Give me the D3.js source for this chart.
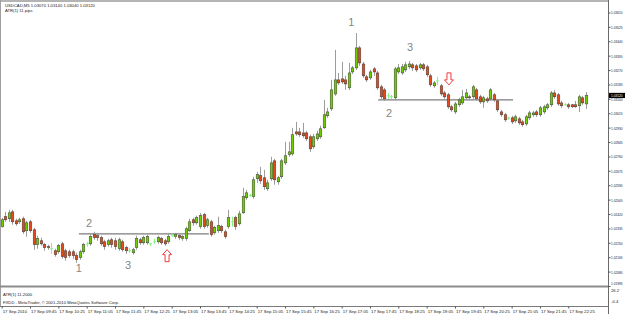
<!DOCTYPE html>
<html>
<head>
<meta charset="utf-8">
<script src="https://cdn.jsdelivr.net/npm/d3@7"></script>
<style>
  html, body { margin: 0; padding: 0; background: #fff; }
  svg { display: block; font-family: "Liberation Sans", Arial, sans-serif; }
</style>
</head>
<body>
<div id="chart"></div>
<script>
// USDCAD M5, 17 Sep 2010, 09:05 .. 22:50
const symbol = "USDCAD,M5";

const open = [
  1.02345, 1.02404, 1.02392, 1.02433, 1.02380, 1.02374, 1.02392, 1.02321, 1.02374, 1.02327,
  1.02239, 1.02262, 1.02239, 1.02227, 1.02215, 1.02203, 1.02197, 1.02244, 1.02203, 1.02197,
  1.02197, 1.02174, 1.02162, 1.02197, 1.02244, 1.02244, 1.02298, 1.02292, 1.02280, 1.02256,
  1.02239, 1.02268, 1.02262, 1.02215, 1.02256, 1.02221, 1.02203, 1.02191, 1.02221, 1.02268,
  1.02250, 1.02250, 1.02244, 1.02256, 1.02256, 1.02274, 1.02262, 1.02256, 1.02292, 1.02286,
  1.02292, 1.02274, 1.02274, 1.02321, 1.02386, 1.02368, 1.02345, 1.02416, 1.02351, 1.02374,
  1.02309, 1.02321, 1.02345, 1.02315, 1.02345, 1.02374, 1.02398, 1.02362, 1.02427, 1.02516,
  1.02528, 1.02522, 1.02628, 1.02646, 1.02634, 1.02569, 1.02628, 1.02734, 1.02610, 1.02640,
  1.02722, 1.02770, 1.02775, 1.02905, 1.02905, 1.02899, 1.02899, 1.02876, 1.02817, 1.02864,
  1.02876, 1.02929, 1.03000, 1.03041, 1.03129, 1.03212, 1.03218, 1.03212, 1.03165, 1.03259,
  1.03283, 1.03401, 1.03306, 1.03230, 1.03224, 1.03277, 1.03253, 1.03171, 1.03153, 1.03118,
  1.03112, 1.03106, 1.03259, 1.03253, 1.03271, 1.03289, 1.03301, 1.03295, 1.03283, 1.03301,
  1.03289, 1.03236, 1.03177, 1.03206, 1.03177, 1.03135, 1.03124, 1.03053, 1.03023, 1.03065,
  1.03076, 1.03106, 1.03112, 1.03112, 1.03153, 1.03112, 1.03082, 1.03100, 1.03100, 1.03124,
  1.03088, 1.03023, 1.03006, 1.02988, 1.02988, 1.02970, 1.02982, 1.02964, 1.02952, 1.02988,
  1.03006, 1.03023, 1.03006, 1.03023, 1.03047, 1.03065, 1.03135, 1.03124, 1.03076, 1.03065,
  1.03065, 1.03065, 1.03065, 1.03059, 1.03106, 1.03070
];
const high = [
  1.02398, 1.02433, 1.02445, 1.02445, 1.02392, 1.02398, 1.02404, 1.02380, 1.02386, 1.02339,
  1.02292, 1.02280, 1.02250, 1.02239, 1.02250, 1.02215, 1.02244, 1.02256, 1.02215, 1.02209,
  1.02209, 1.02191, 1.02209, 1.02250, 1.02256, 1.02303, 1.02315, 1.02309, 1.02292, 1.02268,
  1.02274, 1.02280, 1.02280, 1.02280, 1.02268, 1.02233, 1.02221, 1.02221, 1.02292, 1.02280,
  1.02292, 1.02298, 1.02250, 1.02274, 1.02292, 1.02286, 1.02274, 1.02309, 1.02303, 1.02309,
  1.02303, 1.02298, 1.02345, 1.02392, 1.02398, 1.02410, 1.02427, 1.02427, 1.02398, 1.02386,
  1.02351, 1.02404, 1.02357, 1.02327, 1.02445, 1.02404, 1.02410, 1.02439, 1.02575, 1.02563,
  1.02539, 1.02640, 1.02669, 1.02699, 1.02681, 1.02622, 1.02758, 1.02746, 1.02646, 1.02746,
  1.02846, 1.02846, 1.02929, 1.02964, 1.02929, 1.02958, 1.02911, 1.02888, 1.02893, 1.02911,
  1.02941, 1.03094, 1.03047, 1.03212, 1.03389, 1.03253, 1.03318, 1.03236, 1.03312, 1.03295,
  1.03489, 1.03413, 1.03318, 1.03242, 1.03271, 1.03289, 1.03265, 1.03183, 1.03165, 1.03135,
  1.03124, 1.03289, 1.03306, 1.03306, 1.03318, 1.03324, 1.03312, 1.03306, 1.03312, 1.03312,
  1.03301, 1.03247, 1.03206, 1.03230, 1.03188, 1.03147, 1.03135, 1.03065, 1.03082, 1.03106,
  1.03153, 1.03159, 1.03124, 1.03183, 1.03165, 1.03124, 1.03118, 1.03112, 1.03165, 1.03135,
  1.03100, 1.03035, 1.03017, 1.02994, 1.03000, 1.03006, 1.02994, 1.02976, 1.03006, 1.03029,
  1.03029, 1.03035, 1.03059, 1.03065, 1.03076, 1.03147, 1.03153, 1.03135, 1.03088, 1.03076,
  1.03076, 1.03070, 1.03088, 1.03124, 1.03118, 1.03140
];
const low = [
  1.02339, 1.02374, 1.02374, 1.02357, 1.02351, 1.02362, 1.02303, 1.02286, 1.02309, 1.02209,
  1.02215, 1.02233, 1.02203, 1.02209, 1.02185, 1.02168, 1.02185, 1.02156, 1.02144, 1.02162,
  1.02156, 1.02132, 1.02150, 1.02185, 1.02227, 1.02233, 1.02268, 1.02262, 1.02233, 1.02209,
  1.02227, 1.02221, 1.02209, 1.02203, 1.02197, 1.02185, 1.02191, 1.02180, 1.02209, 1.02239,
  1.02239, 1.02239, 1.02233, 1.02244, 1.02244, 1.02239, 1.02233, 1.02244, 1.02286, 1.02274,
  1.02268, 1.02262, 1.02262, 1.02315, 1.02351, 1.02357, 1.02333, 1.02333, 1.02339, 1.02286,
  1.02298, 1.02309, 1.02309, 1.02274, 1.02333, 1.02345, 1.02327, 1.02351, 1.02421, 1.02504,
  1.02522, 1.02510, 1.02604, 1.02598, 1.02563, 1.02557, 1.02616, 1.02593, 1.02593, 1.02628,
  1.02711, 1.02758, 1.02764, 1.02882, 1.02876, 1.02870, 1.02852, 1.02787, 1.02805, 1.02852,
  1.02864, 1.02923, 1.02988, 1.03029, 1.03118, 1.03183, 1.03188, 1.03153, 1.03153, 1.03247,
  1.03271, 1.03295, 1.03224, 1.03200, 1.03212, 1.03236, 1.03153, 1.03100, 1.03088, 1.03100,
  1.03100, 1.03094, 1.03247, 1.03242, 1.03259, 1.03277, 1.03265, 1.03259, 1.03271, 1.03265,
  1.03230, 1.03171, 1.03165, 1.03183, 1.03118, 1.03100, 1.03041, 1.03023, 1.03011, 1.03053,
  1.03065, 1.03094, 1.03094, 1.03100, 1.03088, 1.03070, 1.03047, 1.03076, 1.03088, 1.03082,
  1.03023, 1.02994, 1.02964, 1.02976, 1.02952, 1.02958, 1.02947, 1.02935, 1.02941, 1.02976,
  1.02994, 1.02994, 1.02994, 1.03011, 1.03035, 1.03053, 1.03100, 1.03059, 1.03047, 1.03059,
  1.03041, 1.03047, 1.03047, 1.03023, 1.03065, 1.03040
];
const close = [
  1.02386, 1.02386, 1.02427, 1.02374, 1.02362, 1.02386, 1.02315, 1.02368, 1.02321, 1.02239,
  1.02274, 1.02244, 1.02221, 1.02221, 1.02215, 1.02180, 1.02233, 1.02168, 1.02162, 1.02174,
  1.02174, 1.02150, 1.02197, 1.02239, 1.02244, 1.02286, 1.02280, 1.02280, 1.02244, 1.02227,
  1.02262, 1.02239, 1.02227, 1.02268, 1.02209, 1.02203, 1.02203, 1.02209, 1.02274, 1.02250,
  1.02280, 1.02286, 1.02244, 1.02256, 1.02280, 1.02250, 1.02244, 1.02286, 1.02292, 1.02298,
  1.02280, 1.02286, 1.02333, 1.02374, 1.02368, 1.02398, 1.02410, 1.02345, 1.02386, 1.02298,
  1.02339, 1.02351, 1.02321, 1.02286, 1.02398, 1.02374, 1.02345, 1.02421, 1.02522, 1.02545,
  1.02528, 1.02622, 1.02652, 1.02616, 1.02581, 1.02604, 1.02722, 1.02622, 1.02634, 1.02734,
  1.02764, 1.02787, 1.02888, 1.02893, 1.02888, 1.02882, 1.02864, 1.02805, 1.02876, 1.02893,
  1.02923, 1.03006, 1.03023, 1.03153, 1.03212, 1.03194, 1.03200, 1.03188, 1.03253, 1.03283,
  1.03401, 1.03312, 1.03236, 1.03212, 1.03259, 1.03259, 1.03165, 1.03112, 1.03100, 1.03118,
  1.03112, 1.03277, 1.03283, 1.03289, 1.03301, 1.03306, 1.03283, 1.03271, 1.03301, 1.03277,
  1.03242, 1.03183, 1.03194, 1.03206, 1.03129, 1.03112, 1.03053, 1.03035, 1.03070, 1.03094,
  1.03112, 1.03135, 1.03106, 1.03171, 1.03100, 1.03082, 1.03106, 1.03088, 1.03153, 1.03094,
  1.03035, 1.03006, 1.02976, 1.02988, 1.02964, 1.02994, 1.02958, 1.02947, 1.02994, 1.03017,
  1.03017, 1.03006, 1.03047, 1.03053, 1.03065, 1.03135, 1.03112, 1.03070, 1.03059, 1.03065,
  1.03053, 1.03053, 1.03053, 1.03112, 1.03076, 1.03120
];

// right price scale
const priceTicks = [
  1.01995, 1.02080, 1.02165, 1.02250, 1.02335, 1.02420, 1.02505, 1.02590, 1.02675, 1.02760,
  1.02845, 1.02930, 1.03015, 1.03100, 1.03185, 1.03270, 1.03355, 1.03440, 1.03525, 1.03610
];
const priceRange = [1.01995, 1.03666];

// time scale: bar index of each label
const timeTicks = [0, 8, 16, 24, 32, 40, 48, 56, 64, 72, 80, 88, 96, 104, 112, 120, 128, 136, 144, 152, 160];
const timeLabels = [
  "17 Sep 2010", "17 Sep 09:45", "17 Sep 10:25", "17 Sep 11:05", "17 Sep 11:45", "17 Sep 12:25",
  "17 Sep 13:05", "17 Sep 13:45", "17 Sep 14:25", "17 Sep 15:05", "17 Sep 15:45", "17 Sep 16:25",
  "17 Sep 17:05", "17 Sep 17:45", "17 Sep 18:25", "17 Sep 19:05", "17 Sep 19:45", "17 Sep 20:25",
  "17 Sep 21:05", "17 Sep 21:45", "17 Sep 22:25"
];

// hand drawn notes: [label, bar, price]
const notes = [
  ["1", 21.8, 1.02103], ["2", 24.7, 1.02368], ["3", 35.7, 1.02120],
  ["1", 98.7, 1.03554], ["3", 115.3, 1.03407], ["2", 109.4, 1.03017]
];
// horizontal lines: [fromBar, toBar, price]
const levels = [[21.8, 58.5, 1.02303], [106.3, 144.4, 1.03094]];
// arrows: [bar, price, direction]
const arrows = [[46.7, 1.02174, "up"], [126.3, 1.03218, "down"]];

const atrText = "ATR(1) 11.2000";
const atrScale = ["26.2", "-0.4"];
const copyright = "FXDD - MetaTrader, \u00a9 2001-2010 MetaQuotes Software Corp.";

const W = 625, H = 314;
const plot = { l: 1, r: 608, t: 2, b: 286, sub: 306 };
const bull = "#6fcc00", bear = "#e24a1c", doji = "#86f586";
// right scale labels are squeezed sideways to fit the narrow strip
const squeeze = "translate(2.5,0) scale(0.72,1)";

var svg = d3.select("#chart").append("svg")
  .attr("width", W)
  .attr("height", H);

var x = d3.scaleLinear().domain([0, open.length - 1]).range([1.7, 586]);
var y = d3.scaleLinear().domain(priceRange).range([plot.b, 3]);

var bars = open.map((o, i) => ({ i: i, o: o, h: high[i], l: low[i], c: close[i] }));

// frame
svg.append("line").attr("x1", 0).attr("x2", plot.r).attr("y1", 1).attr("y2", 1)
  .attr("stroke", "#b4b4b4").attr("stroke-width", 2);
svg.append("line").attr("x1", 0.5).attr("x2", 0.5).attr("y1", 0).attr("y2", plot.sub)
  .attr("stroke", "#a0a0a0");
svg.append("line").attr("x1", 0).attr("x2", plot.r).attr("y1", plot.b + 0.5).attr("y2", plot.b + 0.5)
  .attr("stroke", "#8c8c8c").attr("stroke-width", 2);
svg.append("line").attr("x1", 0).attr("x2", plot.r).attr("y1", plot.sub + 0.5).attr("y2", plot.sub + 0.5)
  .attr("stroke", "#7a7a7a");
svg.append("line").attr("x1", plot.r + 0.5).attr("x2", plot.r + 0.5).attr("y1", 0).attr("y2", H)
  .attr("stroke", "#6a6a6a");

// support / resistance lines
svg.append("g").selectAll("line")
  .data(levels)
  .join("line")
  .attr("x1", (d) => x(d[0]))
  .attr("x2", (d) => x(d[1]))
  .attr("y1", (d) => y(d[2]))
  .attr("y2", (d) => y(d[2]))
  .attr("stroke", "#7d7d7d")
  .attr("stroke-width", 1.3);

// candles
var g = svg.append("g").attr("class", "candles");

g.selectAll("line.wick")
  .data(bars)
  .join("line")
  .attr("class", "wick")
  .attr("x1", (d) => Math.round(x(d.i)) + 0.5)
  .attr("x2", (d) => Math.round(x(d.i)) + 0.5)
  .attr("y1", (d) => y(d.h))
  .attr("y2", (d) => y(d.l))
  .attr("stroke", (d) => (d.o === d.c ? doji : "#9c9c9c"))
  .attr("stroke-width", 1);

g.selectAll("rect")
  .data(bars.filter((d) => d.o !== d.c))
  .join("rect")
  .attr("x", (d) => Math.round(x(d.i)) - 0.8)
  .attr("width", 2.6)
  .attr("y", (d) => y(Math.max(d.o, d.c)))
  .attr("height", (d) => Math.max(1, Math.abs(y(d.o) - y(d.c))))
  .attr("fill", (d) => (d.c > d.o ? bull : bear))
  .attr("stroke", "#3c3c3c")
  .attr("stroke-width", 0.5);

g.selectAll("line.flat")
  .data(bars.filter((d) => d.o === d.c))
  .join("line")
  .attr("class", "flat")
  .attr("x1", (d) => Math.round(x(d.i)) - 1)
  .attr("x2", (d) => Math.round(x(d.i)) + 2)
  .attr("y1", (d) => y(d.o))
  .attr("y2", (d) => y(d.o))
  .attr("stroke", doji);

// notes
svg.append("g").selectAll("text")
  .data(notes)
  .join("text")
  .attr("x", (d) => x(d[1]))
  .attr("y", (d) => y(d[2]))
  .attr("text-anchor", "middle")
  .attr("dominant-baseline", "central")
  .attr("font-size", 11)
  .attr("fill", "#858585")
  .text((d) => d[0]);

// hollow arrows
function arrowPath(d) {
  var cx = x(d[0]), cy = y(d[1]);
  var s = d[2] === "up" ? -1 : 1;
  var pts = [[-2, -6], [2, -6], [2, 1], [4.5, 1], [0, 6], [-4.5, 1], [-2, 1]];
  return "M" + pts.map((p) => [cx + p[0], cy + p[1] * s].join(",")).join("L") + "Z";
}
svg.append("g").selectAll("path")
  .data(arrows)
  .join("path")
  .attr("d", arrowPath)
  .attr("fill", "#fff")
  .attr("stroke", "#f03a3a")
  .attr("stroke-width", 1);

// price axis
var yAxis = svg.append("g")
  .attr("transform", "translate(" + (plot.r + 0.5) + ",0)")
  .call(d3.axisRight(y).tickValues(priceTicks).tickSize(2).tickPadding(1).tickFormat(d3.format(".5f")));
yAxis.select(".domain").remove();
yAxis.selectAll("text")
  .attr("x", 0)
  .attr("transform", squeeze)
  .attr("font-size", 4.4).attr("fill", "#222").attr("font-family", "Liberation Sans");
// lowest label sits on the window edge, lift it above the separator
yAxis.selectAll(".tick").filter((d) => d === priceTicks[0]).select("text").attr("dy", "-0.35em");
yAxis.selectAll("line").attr("stroke", "#555");

// current price
var last = bars[bars.length - 1];
svg.append("rect")
  .attr("x", plot.r + 1).attr("y", y(last.c) - 2.6)
  .attr("width", W - plot.r - 1).attr("height", 5.2)
  .attr("fill", "#000");
svg.append("g")
  .attr("transform", "translate(" + (plot.r + 0.5) + "," + y(last.c) + ")")
  .append("text")
  .attr("transform", squeeze)
  .attr("dominant-baseline", "central")
  .attr("font-size", 4.4).attr("fill", "#fff")
  .text(d3.format(".5f")(last.c));

// time axis
var xAxis = svg.append("g")
  .attr("transform", "translate(0," + (plot.sub + 0.5) + ")")
  .call(d3.axisBottom(x).tickValues(timeTicks).tickSize(2).tickPadding(1)
    .tickFormat((d, i) => timeLabels[i]));
xAxis.select(".domain").remove();
xAxis.selectAll("text").attr("text-anchor", "start").attr("x", 0.5)
  .attr("font-size", 4.3).attr("fill", "#222").attr("font-family", "Liberation Sans");
xAxis.selectAll("line").attr("stroke", "#555");

// header
var fmt = d3.format(".5f");
var info = svg.append("g").attr("font-size", 4.2).attr("fill", "#222");
info.append("text").attr("x", 5).attr("y", 6.5)
  .text(symbol + "  " + [last.o, last.h, last.l, last.c].map(fmt).join(" "));
info.append("text").attr("x", 5).attr("y", 11.5).text("ATR(1) 11 pips");

// ATR sub window
info.append("text").attr("x", 3).attr("y", 295.5).text(atrText);
info.append("text").attr("x", 3).attr("y", 304).text(copyright);
info.append("text").attr("x", plot.r + 3).attr("y", 291.5).text(atrScale[0]);
info.append("text").attr("x", plot.r + 3).attr("y", 302.5).text(atrScale[1]);
</script>
</body>
</html>
